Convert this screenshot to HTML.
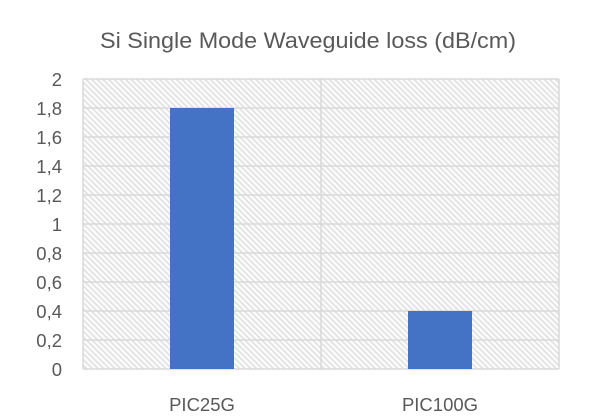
<!DOCTYPE html>
<html><head><meta charset="utf-8"><style>
html,body{margin:0;padding:0;background:#fff;}
svg{display:block;font-family:"Liberation Sans",sans-serif;}
</style></head><body>
<svg width="600" height="418" viewBox="0 0 600 418" xmlns="http://www.w3.org/2000/svg">
<defs>
<pattern id="h" width="4" height="4" patternUnits="userSpaceOnUse" patternTransform="rotate(-45)">
<rect width="4" height="4" fill="#fbfbfb"/>
<rect width="1.3" height="4" fill="#dcdcdc"/>
</pattern>
</defs>
<text x="308" y="48" text-anchor="middle" font-size="22.5" fill="#595959" textLength="416" lengthAdjust="spacingAndGlyphs">Si Single Mode Waveguide  loss (dB/cm)</text>
<rect x="83" y="79" width="476" height="290" fill="url(#h)"/>
<g stroke="#d9d9d9" stroke-width="1.5" fill="none">
<line x1="83" y1="79" x2="559" y2="79"/>
<line x1="83" y1="108" x2="559" y2="108"/>
<line x1="83" y1="137" x2="559" y2="137"/>
<line x1="83" y1="166" x2="559" y2="166"/>
<line x1="83" y1="195" x2="559" y2="195"/>
<line x1="83" y1="224" x2="559" y2="224"/>
<line x1="83" y1="253" x2="559" y2="253"/>
<line x1="83" y1="282" x2="559" y2="282"/>
<line x1="83" y1="311" x2="559" y2="311"/>
<line x1="83" y1="340" x2="559" y2="340"/>
<line x1="83" y1="369" x2="559" y2="369"/>
<line x1="83" y1="79" x2="83" y2="369"/>
<line x1="321" y1="79" x2="321" y2="369"/>
<line x1="559" y1="79" x2="559" y2="369"/>
</g>
<rect x="170" y="108" width="64" height="261" fill="#4472c4"/>
<rect x="408" y="311" width="64" height="58" fill="#4472c4"/>
<g font-size="18.5" fill="#595959" text-anchor="end">
<text x="62" y="86">2</text>
<text x="62" y="115">1,8</text>
<text x="62" y="144">1,6</text>
<text x="62" y="173">1,4</text>
<text x="62" y="202">1,2</text>
<text x="62" y="231">1</text>
<text x="62" y="260">0,8</text>
<text x="62" y="289">0,6</text>
<text x="62" y="318">0,4</text>
<text x="62" y="347">0,2</text>
<text x="62" y="376">0</text>
</g>
<g font-size="18.5" fill="#595959" text-anchor="middle">
<text x="202" y="411">PIC25G</text>
<text x="440" y="411">PIC100G</text>
</g>
</svg>
</body></html>
